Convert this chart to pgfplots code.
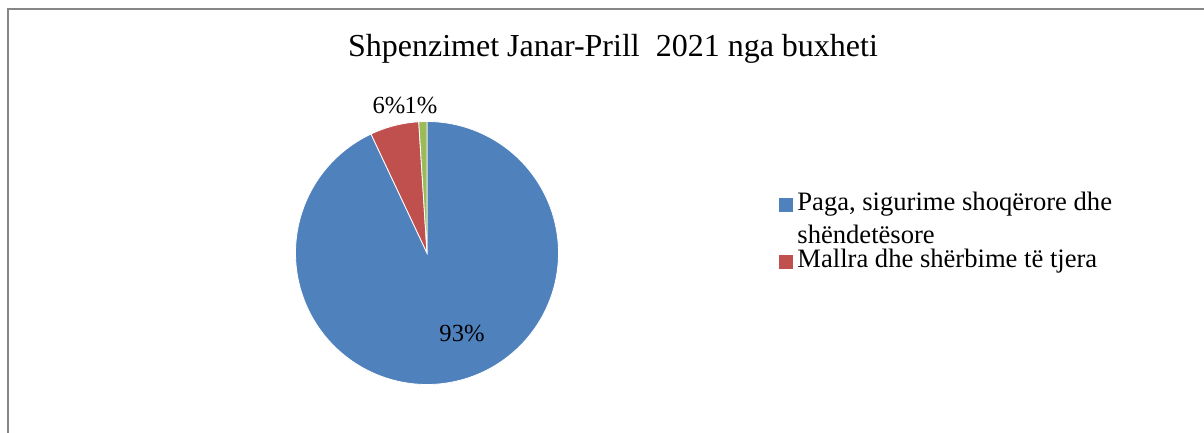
\documentclass[border=0pt]{standalone}
\usepackage{pgfplots}
\pgfplotsset{compat=1.18}
\usepackage{fontspec}
\setmainfont{Liberation Serif}
\definecolor{cblue}{HTML}{4F81BD}
\definecolor{cred}{HTML}{C0504D}
\definecolor{cgreen}{HTML}{9BBB59}
\definecolor{frame}{HTML}{868686}
% shares (percent)
\def\va{93}\def\vb{6}\def\vc{1}
\pgfmathsetmacro\aA{90}
\pgfmathsetmacro\aB{90-3.6*\va}
\pgfmathsetmacro\aC{\aB-3.6*\vb}
\pgfmathsetmacro\aD{\aC-3.6*\vc}
\begin{document}
\begin{tikzpicture}
\begin{axis}[
  width=602pt, height=216.5pt, scale only axis,
  xmin=0, xmax=1204, ymin=0, ymax=433, y dir=reverse,
  hide axis, clip=false,
  legend style={at={(axis cs:779,192.5)}, anchor=north west, draw=none, fill=none,
    font=\fontsize{13.3}{15.4}\selectfont, inner sep=0pt, row sep=0pt,
    nodes={inner ysep=0pt},
    cells={anchor=base west}},
  legend image code/.code={\fill[#1, draw=none] (0pt,-0.6pt) rectangle (7pt,6.3pt);},
]
\addplot[fill=cblue, draw=white, line width=0.4pt, domain=\aB:\aA, samples=200]
  ({427+131.5*cos(x)}, {253-131.5*sin(x)}) -- (axis cs:427,253) -- cycle;
\addlegendentry[text height=9pt, text depth=3.15pt]{Paga, sigurime shoqërore dhe}
\addlegendimage{empty legend}
\addlegendentry[text height=13.1pt, text depth=3.15pt]{shëndetësore}
\addplot[fill=cred, draw=white, line width=0.4pt, domain=\aC:\aB, samples=30]
  ({427+131.5*cos(x)}, {253-131.5*sin(x)}) -- (axis cs:427,253) -- cycle;
\addlegendentry[text height=9pt, text depth=3.15pt]{Mallra dhe shërbime të tjera}
\addplot[fill=cgreen, draw=white, line width=0.4pt, domain=\aD:\aC, samples=10]
  ({427+131.5*cos(x)}, {253-131.5*sin(x)}) -- (axis cs:427,253) -- cycle;
\node[font=\fontsize{16}{18}\selectfont] at (axis cs:613,49) {Shpenzimet Janar-Prill\ \ 2021 nga buxheti};
\node[font=\fontsize{12.3}{14}\selectfont] at (axis cs:462,333) {93\%};
\node[font=\fontsize{12.3}{14}\selectfont] at (axis cs:389,105.5) {6\%};
\node[font=\fontsize{12.3}{14}\selectfont] at (axis cs:421,105.5) {1\%};
\draw[frame, line width=1pt] (axis cs:7.5,433) -- (axis cs:7.5,9.5) -- (axis cs:1204,9.5);
\end{axis}
\pgfresetboundingbox
\path[use as bounding box] (current axis.south west) rectangle (current axis.north east);
\end{tikzpicture}
\end{document}
